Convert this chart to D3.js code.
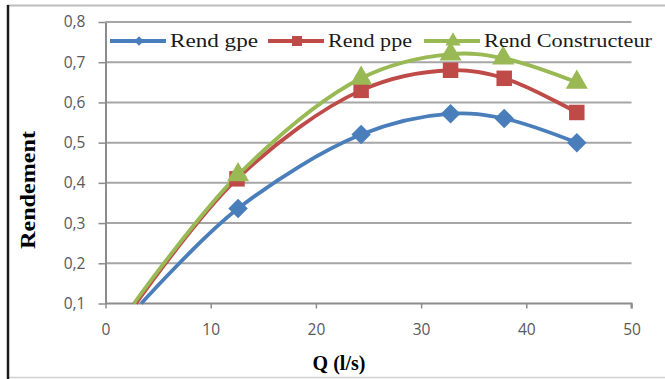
<!DOCTYPE html>
<html>
<head>
<meta charset="utf-8">
<script src="https://cdn.jsdelivr.net/npm/d3@7"></script>
<style>
  body { margin: 0; background: #fff; }
  svg { display: block; }
</style>
</head>
<body>
<svg id="chart" width="665" height="379"></svg>
<script>
// data
let qGpe  = [3.4, 12.6, 24.3, 32.8, 37.9, 44.8];
let rGpe  = [0.10, 0.336, 0.52, 0.572, 0.56, 0.50];
let qPpe  = [2.9, 12.5, 24.3, 32.8, 37.9, 44.8];
let rPpe  = [0.10, 0.41, 0.63, 0.68, 0.66, 0.575];
let qCons = [2.7, 12.6, 24.3, 32.8, 37.8, 44.8];
let rCons = [0.10, 0.42, 0.66, 0.72, 0.71, 0.65];

let seriesNames = ["Rend gpe", "Rend ppe", "Rend Constructeur"];
let xTicks = [0, 10, 20, 30, 40, 50];
let yTicks = [0.1, 0.2, 0.3, 0.4, 0.5, 0.6, 0.7, 0.8];

let colors = ["#4a7ebb", "#be4b48", "#98b954"];
let symbols = [d3.symbolSquare, d3.symbolSquare, d3.symbolTriangle];
let rotations = [45, 0, 0];

let series = [
  {name: seriesNames[0], pts: qGpe.map((q, i) => ({q: q, r: rGpe[i]}))},
  {name: seriesNames[1], pts: qPpe.map((q, i) => ({q: q, r: rPpe[i]}))},
  {name: seriesNames[2], pts: qCons.map((q, i) => ({q: q, r: rCons[i]}))}
];

let svg = d3.select("#chart");

// frame
svg.append("line").attr("x1", 7).attr("x2", 665).attr("y1", 5.5).attr("y2", 5.5)
  .attr("stroke", "#bdbdbd").attr("stroke-width", 2);
svg.append("line").attr("x1", 7).attr("x2", 665).attr("y1", 377.5).attr("y2", 377.5)
  .attr("stroke", "#d0d0d0").attr("stroke-width", 1.5);
svg.append("line").attr("x1", 8).attr("x2", 8).attr("y1", 5).attr("y2", 379)
  .attr("stroke", "#1a1a1a").attr("stroke-width", 2.5);

let x = d3.scaleLinear().domain([0, 50]).range([105.5, 631.5]);
let y = d3.scaleLinear().domain([0.1, 0.8]).range([303.5, 22]);

// gridlines
svg.append("g")
  .selectAll("line")
  .data(yTicks.slice(1))
  .join("line")
    .attr("x1", x(0)).attr("x2", x(50))
    .attr("y1", d => y(d)).attr("y2", d => y(d))
    .attr("stroke", "#a6a6a6").attr("stroke-width", 2);

let fmt = d => d3.format(".1f")(d).replace(".", ",");

// axes
let xAxis = svg.append("g")
  .attr("transform", `translate(0,${y(0.1)})`)
  .call(d3.axisBottom(x).tickValues(xTicks).tickSize(5).tickPadding(15).tickSizeOuter(0));
let yAxis = svg.append("g")
  .attr("transform", `translate(${x(0)},0)`)
  .call(d3.axisLeft(y).tickValues(yTicks).tickFormat(fmt).tickSize(7).tickPadding(13).tickSizeOuter(0));

[xAxis, yAxis].forEach(a => {
  a.select(".domain").attr("stroke", "#8c8c8c").attr("stroke-width", 2);
  a.selectAll(".tick line").attr("stroke", "#8c8c8c").attr("stroke-width", 1.5);
  a.selectAll(".tick text")
    .attr("fill", "#595959")
    .style("font-family", "'Open Sans', 'DejaVu Sans', sans-serif")
    .style("font-size", "15.5px");
});
xAxis.select(".domain").attr("d", `M${x(0)},0H${x(50)}V5`);

// lines
let line = d3.line()
  .x(d => x(d.q))
  .y(d => y(d.r))
  .curve(d3.curveCatmullRom.alpha(0.5));

svg.append("g")
  .selectAll("path")
  .data(series)
  .join("path")
    .attr("fill", "none")
    .attr("stroke", (d, i) => colors[i])
    .attr("stroke-width", 3.8)
    .attr("d", d => line(d.pts));

// markers (first point sits on the axis, no marker shown)
let sym = d3.symbol();
let sizes = [190, 240, 210];
series.forEach((s, i) => {
  svg.append("g")
    .selectAll("path")
    .data(s.pts.slice(1))
    .join("path")
      .attr("transform", d => `translate(${x(d.q)},${y(d.r)}) rotate(${rotations[i]})`)
      .attr("d", sym.type(symbols[i]).size(sizes[i]))
      .attr("fill", colors[i]);
});

// legend
let legX = [110, 268, 424];
let legW = [88, 84, 168];
let legY = 41;
let leg = svg.append("g");
seriesNames.forEach((name, i) => {
  leg.append("line")
    .attr("x1", legX[i]).attr("x2", legX[i] + 56)
    .attr("y1", legY).attr("y2", legY)
    .attr("stroke", colors[i]).attr("stroke-width", 3.8);
  leg.append("path")
    .attr("transform", `translate(${legX[i] + 29},${legY}) rotate(${rotations[i]})`)
    .attr("d", sym.type(symbols[i]).size(i == 0 ? 45 : 100))
    .attr("fill", colors[i]);
  leg.append("text")
    .attr("x", legX[i] + 60).attr("y", legY + 6)
    .attr("textLength", legW[i])
    .attr("lengthAdjust", "spacingAndGlyphs")
    .style("font-family", "'Liberation Serif', serif")
    .style("font-size", "18px")
    .attr("fill", "#1a1a1a")
    .text(name);
});

// axis titles
svg.append("text")
  .attr("x", 339).attr("y", 370)
  .attr("text-anchor", "middle")
  .style("font-family", "'Liberation Serif', serif")
  .style("font-size", "20px").style("font-weight", "bold")
  .text("Q (l/s)");

svg.append("text")
  .attr("transform", "translate(35,190) rotate(-90)")
  .attr("text-anchor", "middle")
  .attr("textLength", 118)
  .attr("lengthAdjust", "spacingAndGlyphs")
  .style("font-family", "'Liberation Serif', serif")
  .style("font-size", "20px").style("font-weight", "bold")
  .text("Rendement");
</script>
</body>
</html>
